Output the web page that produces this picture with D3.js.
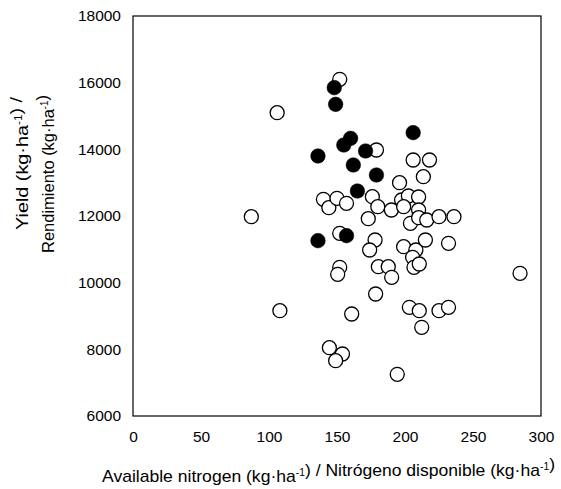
<!DOCTYPE html>
<html>
<head>
<meta charset="utf-8">
<script src="https://cdn.jsdelivr.net/npm/d3@7"></script>
<style>
  body { margin: 0; background: #fff; }
  text { font-family: "Liberation Sans", Arial, sans-serif; fill: #000; }
</style>
</head>
<body>
<script>
// Open circles: available nitrogen (kg/ha) and yield (kg/ha)
var openN = [152, 106, 179, 206, 218, 213.5, 196, 140, 144, 150, 157, 176, 180, 190,
  197.5, 202.5, 210, 199, 210, 173, 204, 210, 216, 225, 236, 87, 152, 178, 174, 199,
  208, 215, 232, 205.6, 206.6, 210.5, 180.4, 187.7, 190.2, 284.6, 152, 150.5, 108,
  178.4, 160.8, 203.2, 210.5, 225, 232, 212.3, 144.4, 154, 149, 194.3];
var openYield = [16100, 15100, 13980, 13680, 13680, 13180, 13000, 12500, 12250, 12530,
  12380, 12580, 12280, 12180, 12480, 12600, 12570, 12280, 12180, 11920, 11780, 11950,
  11880, 11980, 11980, 11980, 11480, 11280, 10980, 11080, 10980, 11280, 11180, 10760,
  10460, 10560, 10480, 10480, 10160, 10280, 10460, 10250, 9160, 9660, 9060, 9260, 9160,
  9160, 9260, 8660, 8050, 7860, 7660, 7250];

// Filled circles
var filledN = [148, 149, 160, 155, 136, 171, 162, 179, 206, 165, 136, 157];
var filledYield = [15850, 15350, 14330, 14130, 13800, 13950, 13530, 13230, 14500, 12750, 11260, 11410];

var xTicks = [0, 50, 100, 150, 200, 250, 300];
var yTicks = [6000, 8000, 10000, 12000, 14000, 16000, 18000];

var svg = d3.select("body")
            .append("svg")
            .attr("width", 561)
            .attr("height", 489);

var margin = {top: 16, right: 20, bottom: 73, left: 133},
    width = +svg.attr("width") - margin.left - margin.right,
    height = +svg.attr("height") - margin.top - margin.bottom;

var x = d3.scaleLinear().domain([0, 300]).range([0, width]);
var y = d3.scaleLinear().domain([6000, 18000]).range([height, 0]);

var g = svg.append("g")
  .attr("transform", "translate(" + margin.left + "," + margin.top + ")");

// Frame around plot
g.append("rect")
  .attr("x", 0).attr("y", 0)
  .attr("width", width).attr("height", height)
  .attr("fill", "none")
  .attr("stroke", "#000")
  .attr("stroke-width", 1.2);

// Axes (labels only, no tick marks)
var xAxis = g.append("g")
  .attr("transform", "translate(0," + height + ")")
  .call(d3.axisBottom(x).tickValues(xTicks).tickSize(0).tickPadding(15).tickFormat(d3.format("d")));
var yAxis = g.append("g")
  .call(d3.axisLeft(y).tickValues(yTicks).tickSize(0).tickPadding(12).tickFormat(d3.format("d")));

[xAxis, yAxis].forEach(function(a) {
  a.select(".domain").remove();
  a.selectAll("text")
    .style("font-family", "'Liberation Sans', Arial, sans-serif")
    .style("font-size", "15.5px")
    .attr("fill", "#000");
});

// Open circles
g.selectAll("circle.open")
  .data(openN.map(function(n, i) { return {n: n, v: openYield[i]}; }))
  .enter()
  .append("circle")
  .attr("class", "open")
  .attr("cx", function(d) { return x(d.n); })
  .attr("cy", function(d) { return y(d.v); })
  .attr("r", 7)
  .attr("fill", "#fff")
  .attr("stroke", "#000")
  .attr("stroke-width", 1.3);

// Filled circles
g.selectAll("circle.filled")
  .data(filledN.map(function(n, i) { return {n: n, v: filledYield[i]}; }))
  .enter()
  .append("circle")
  .attr("class", "filled")
  .attr("cx", function(d) { return x(d.n); })
  .attr("cy", function(d) { return y(d.v); })
  .attr("r", 7.3)
  .attr("fill", "#000")
  .attr("stroke", "#000")
  .attr("stroke-width", 0.5);

// Helper to write "(kg·ha^-1)" with a superscript
function unitText(sel, parts) {
  parts.forEach(function(p) {
    if (p.sup) {
      sel.append("tspan").attr("dy", -6).style("font-size", "10px").text(p.t);
      sel.append("tspan").attr("dy", 6).text("");
    } else {
      sel.append("tspan").text(p.t);
    }
  });
}

// x-axis title
var xt = svg.append("text")
  .attr("x", 102)
  .attr("y", 482)
  .attr("textLength", 453)
  .attr("lengthAdjust", "spacingAndGlyphs")
  .style("font-size", "17px");
unitText(xt, [
  {t: "Available nitrogen (kg·ha"}, {t: "-1", sup: true},
  {t: ") / Nitrógeno disponible (kg·ha"}, {t: "-1", sup: true}, {t: ")"}
]);

// y-axis title (two lines)
var yt1 = svg.append("text")
  .attr("transform", "rotate(-90)")
  .attr("x", -230)
  .attr("y", 28)
  .attr("textLength", 133)
  .attr("lengthAdjust", "spacingAndGlyphs")
  .style("font-size", "17px");
unitText(yt1, [{t: "Yield (kg·ha"}, {t: "-1", sup: true}, {t: ") /"}]);

var yt2 = svg.append("text")
  .attr("transform", "rotate(-90)")
  .attr("x", -253)
  .attr("y", 54)
  .attr("textLength", 158)
  .attr("lengthAdjust", "spacingAndGlyphs")
  .style("font-size", "17px");
unitText(yt2, [{t: "Rendimiento (kg·ha"}, {t: "-1", sup: true}, {t: ")"}]);
</script>
</body>
</html>
